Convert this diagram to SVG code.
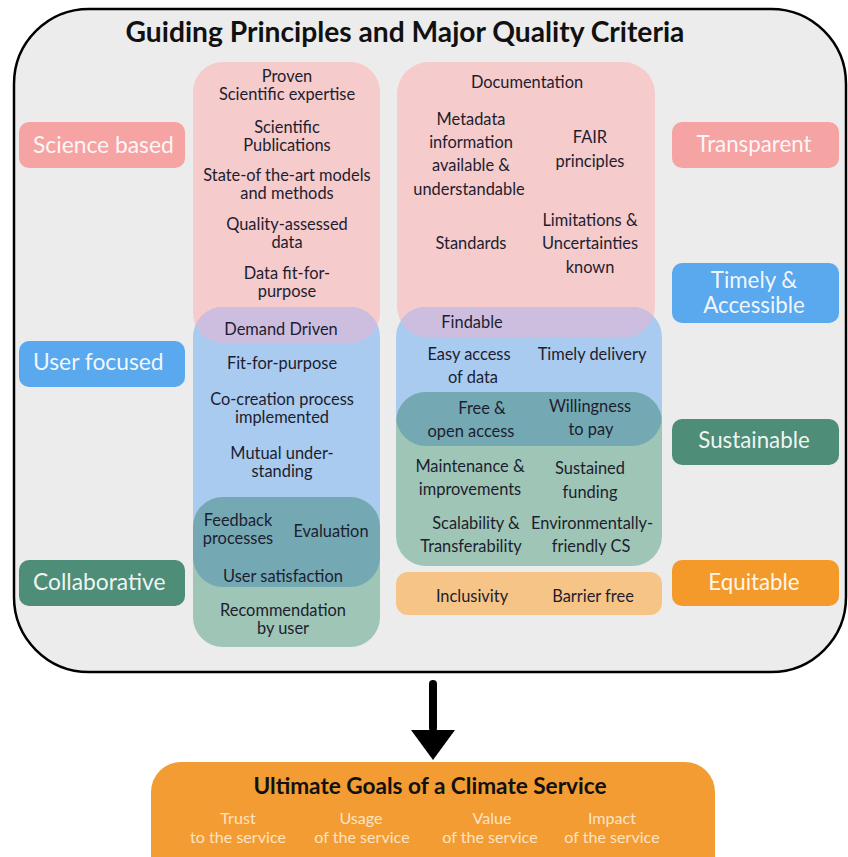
<svg xmlns="http://www.w3.org/2000/svg" width="848" height="857" viewBox="0 0 848 857">
<style>
text{font-family:Lato,"Liberation Sans",sans-serif;}
.t{font-size:16.4px;fill:#1d1d30;text-anchor:middle;}
.lab{font-size:22.8px;fill:#ffffff;fill-opacity:0.93;}
.labc{font-size:22.3px;fill:#ffffff;fill-opacity:0.93;text-anchor:middle;}
.sub{font-size:16.1px;fill:#fbe3c4;text-anchor:middle;}
</style>
<defs>
<clipPath id="cPinkL"><rect x="193" y="62" width="187" height="281" rx="30"/></clipPath>
<clipPath id="cBlueL"><rect x="193" y="307" width="187" height="280" rx="30"/></clipPath>
<clipPath id="cPinkR"><rect x="397" y="62" width="258" height="276" rx="32"/></clipPath>
<clipPath id="cBlueR"><rect x="396" y="307" width="266" height="139" rx="30"/></clipPath>
</defs>
<rect x="0" y="0" width="848" height="857" fill="#ffffff"/>
<g id="frame">
<rect x="14" y="9" width="832" height="663" rx="75" fill="#ececec" stroke="#000" stroke-width="2.5"/>
<text x="405" y="42" font-size="28.2" font-weight="bold" fill="#111" text-anchor="middle">Guiding Principles and Major Quality Criteria</text>
</g>
<g id="left-column">
<rect x="193" y="62" width="187" height="281" rx="30" fill="#f5cbcb"/>
<rect x="193" y="307" width="187" height="280" rx="30" fill="#a9cbef"/>
<rect x="193" y="497" width="187" height="150" rx="30" fill="#9ec5b5"/>
<rect x="193" y="307" width="187" height="280" rx="30" fill="#cdbee0" clip-path="url(#cPinkL)"/>
<rect x="193" y="497" width="187" height="150" rx="30" fill="#74a9b3" clip-path="url(#cBlueL)"/>
</g>
<g id="right-column">
<rect x="397" y="62" width="258" height="276" rx="32" fill="#f5cbcb"/>
<rect x="396" y="307" width="266" height="139" rx="30" fill="#a9cbef"/>
<rect x="396" y="392" width="266" height="174" rx="30" fill="#9ec5b5"/>
<rect x="396" y="307" width="266" height="139" rx="30" fill="#cdbee0" clip-path="url(#cPinkR)"/>
<rect x="396" y="392" width="266" height="174" rx="30" fill="#74a9b3" clip-path="url(#cBlueR)"/>
<rect x="396" y="572" width="266" height="43" rx="12" fill="#f6c487"/>
</g>
<g id="science-based"><rect x="19" y="122" width="166" height="46" rx="10" fill="#f5a3a3"/><text class="lab" x="33" y="153">Science based</text></g>
<g id="user-focused"><rect x="19" y="341" width="166" height="46" rx="10" fill="#5aa8ee"/><text class="lab" x="33" y="370">User focused</text></g>
<g id="collaborative"><rect x="19" y="560" width="166" height="46" rx="10" fill="#4e8d78"/><text class="lab" x="33" y="590">Collaborative</text></g>
<g id="transparent"><rect x="672" y="122" width="167" height="46" rx="10" fill="#f5a3a3"/><text class="labc" x="754" y="152">Transparent</text></g>
<g id="timely-accessible"><rect x="672" y="263" width="167" height="60" rx="10" fill="#5aa8ee"/><text class="labc" x="754" y="288" font-size="21.6">Timely &amp;<tspan x="754" dy="24.5">Accessible</tspan></text></g>
<g id="sustainable"><rect x="672" y="419" width="167" height="46" rx="10" fill="#4e8d78"/><text class="labc" x="754" y="448">Sustainable</text></g>
<g id="equitable"><rect x="672" y="560" width="167" height="46" rx="10" fill="#f39a2b"/><text class="labc" x="754" y="590">Equitable</text></g>
<g id="left-items">
<text class="t" x="287" y="82">Proven<tspan x="287" dy="17.8">Scientific expertise</tspan></text>
<text class="t" x="287" y="133">Scientific<tspan x="287" dy="17.8">Publications</tspan></text>
<text class="t" x="287" y="181">State-of the-art models<tspan x="287" dy="17.8">and methods</tspan></text>
<text class="t" x="287" y="230">Quality-assessed<tspan x="287" dy="17.8">data</tspan></text>
<text class="t" x="287" y="279">Data fit-for-<tspan x="287" dy="17.8">purpose</tspan></text>
<text class="t" x="281" y="335">Demand Driven</text>
<text class="t" x="282" y="369">Fit-for-purpose</text>
<text class="t" x="282" y="405">Co-creation process<tspan x="282" dy="17.8">implemented</tspan></text>
<text class="t" x="282" y="459">Mutual under-<tspan x="282" dy="17.8">standing</tspan></text>
<text class="t" x="238" y="526">Feedback<tspan x="238" dy="17.8">processes</tspan></text>
<text class="t" x="331" y="537">Evaluation</text>
<text class="t" x="283" y="582">User satisfaction</text>
<text class="t" x="283" y="616">Recommendation<tspan x="283" dy="17.8">by user</tspan></text>
</g>
<g id="right-items">
<text class="t" x="527" y="88">Documentation</text>
<text class="t" x="471" y="125">Metadata<tspan x="471" dy="23">information</tspan><tspan x="471" dy="23">available &amp;</tspan><tspan x="469" dy="24">understandable</tspan></text>
<text class="t" x="590" y="143">FAIR<tspan x="590" dy="24">principles</tspan></text>
<text class="t" x="590" y="226">Limitations &amp;<tspan x="590" dy="23">Uncertainties</tspan><tspan x="590" dy="24">known</tspan></text>
<text class="t" x="471" y="249">Standards</text>
<text class="t" x="472" y="328">Findable</text>
<text class="t" x="469" y="360">Easy access<tspan x="473" dy="23">of data</tspan></text>
<text class="t" x="592" y="360">Timely delivery</text>
<text class="t" x="482" y="414">Free &amp;<tspan x="471" dy="23">open access</tspan></text>
<text class="t" x="590" y="412">Willingness<tspan x="591" dy="23">to pay</tspan></text>
<text class="t" x="470" y="472">Maintenance &amp;<tspan x="470" dy="23">improvements</tspan></text>
<text class="t" x="590" y="474">Sustained<tspan x="590" dy="24">funding</tspan></text>
<text class="t" x="476" y="529">Scalability &amp;<tspan x="471" dy="23">Transferability</tspan></text>
<text class="t" x="592" y="529">Environmentally-<tspan x="591" dy="23">friendly CS</tspan></text>
<text class="t" x="472" y="602">Inclusivity</text>
<text class="t" x="593" y="602">Barrier free</text>
</g>
<g id="connectors">
<rect x="429" y="680" width="8" height="52" rx="4" fill="#000"/>
<polygon points="411,730 455,730 433,760" fill="#000"/>
</g>
<g id="ultimate-goals">
<rect x="151" y="762" width="564" height="130" rx="30" fill="#f39c33"/>
<text x="430" y="794" font-size="22.6" font-weight="bold" fill="#111" text-anchor="middle">Ultimate Goals of a Climate Service</text>
<text class="sub" x="238" y="824">Trust<tspan x="238" dy="18.5">to the service</tspan></text>
<text class="sub" x="361" y="824">Usage<tspan x="362" dy="18.5">of the service</tspan></text>
<text class="sub" x="492" y="824">Value<tspan x="490" dy="18.5">of the service</tspan></text>
<text class="sub" x="612" y="824">Impact<tspan x="612" dy="18.5">of the service</tspan></text>
</g>
</svg>
